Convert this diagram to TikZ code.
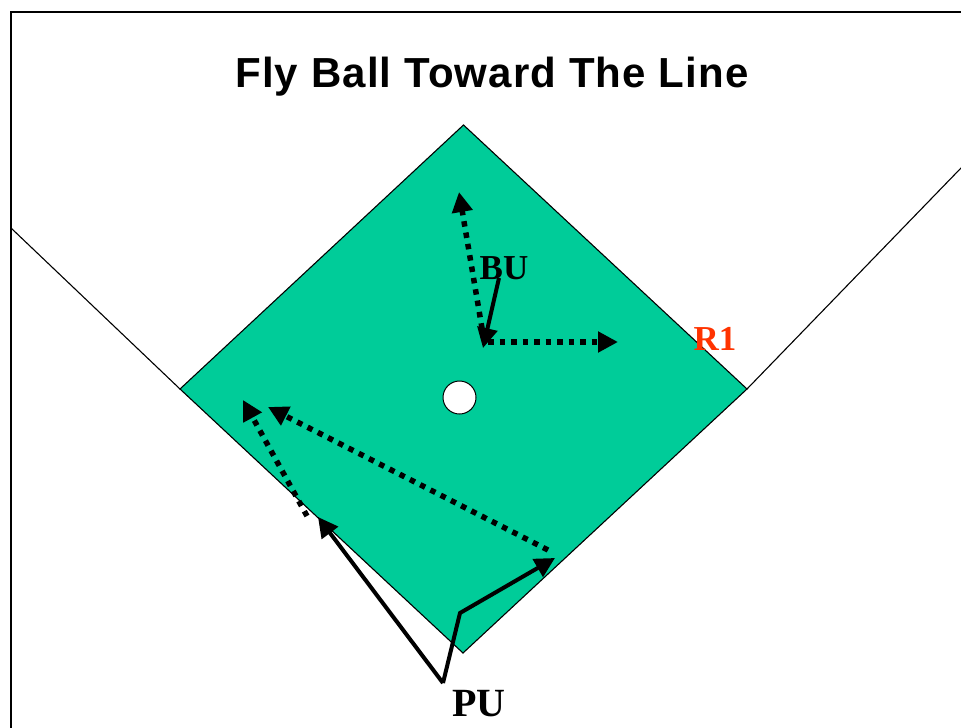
\documentclass[tikz,border=0pt]{standalone}
\usepackage{fontspec}
\setmainfont{Liberation Serif}
\newfontfamily\titlefont[LetterSpace=2.7]{Liberation Sans}
\usetikzlibrary{arrows.meta}
\definecolor{field}{RGB}{0,204,153}
\definecolor{runner}{RGB}{255,51,0}
\tikzset{
  thinline/.style={line width=1.1pt, draw=black},
  solidarrow/.style={line width=4pt, -{Triangle[length=20pt,width=20pt]}},
  dotarrow/.style={line width=5.5pt, dash pattern=on 5.5pt off 6pt, -{Triangle[length=20pt,width=20pt]}},
  lbl/.style={font=\bfseries\fontsize{35}{40}\selectfont, inner sep=0pt},
}
\begin{document}
\begin{tikzpicture}[x=1pt,y=-1pt]
\useasboundingbox (0,0) rectangle (961,728);
% frame
\draw[line width=1.5pt] (11,728) -- (11,12) -- (961,12);
% title
\node[font=\titlefont\bfseries\fontsize{42}{50}\selectfont, inner sep=0pt] (title) at (492,77) {Fly Ball Toward The Line};
% diamond corners
\coordinate (home) at (463,653);
\coordinate (first) at (747,389);
\coordinate (second) at (463.5,125);
\coordinate (third) at (180,389);
\coordinate (lfend) at (11,228);
\coordinate (rfend) at (961,168);
% foul lines
\draw[thinline] (lfend) -- (third);
\draw[thinline] (rfend) -- (first);
% infield
\filldraw[fill=field, thinline] (home) -- (first) -- (second) -- (third) -- cycle;
% mound
\node[circle, draw=black, line width=1pt, fill=white, minimum size=33pt, inner sep=0pt] (mound) at (459.5,397.5) {};
% labels
\node[lbl] (bu) at (504,268) {BU};
\node[lbl, text=runner] (r1) at (715,339) {R1};
\node[lbl, font=\bfseries\fontsize{40}{46}\selectfont] (pu) at (479,704) {PU};
% BU movement
\coordinate (buS) at (499,278);
\coordinate (buP) at (483,348);
\coordinate (buDs) at (484,340);
\coordinate (buUp) at (459,192);
\coordinate (buRs) at (488,342);
\coordinate (buRt) at (618,342);
\draw[dotarrow] (buDs) -- (buUp);
\draw[dotarrow] (buRs) -- (buRt);
\draw[solidarrow] (buS) -- (buP);
% PU movement
\coordinate (puS) at (443,683);
\coordinate (puL) at (318,517);
\coordinate (puK) at (460,613);
\coordinate (puR) at (555,558);
\coordinate (d1s) at (307,516);
\coordinate (d1t) at (243,400);
\coordinate (d2s) at (548,550);
\coordinate (d2t) at (268,407);
\draw[dotarrow] (d1s) -- (d1t);
\draw[dotarrow] (d2s) -- (d2t);
\draw[solidarrow] (puS) -- (puL);
\draw[solidarrow, line join=miter] (puS) -- (puK) -- (puR);
\end{tikzpicture}
\end{document}
